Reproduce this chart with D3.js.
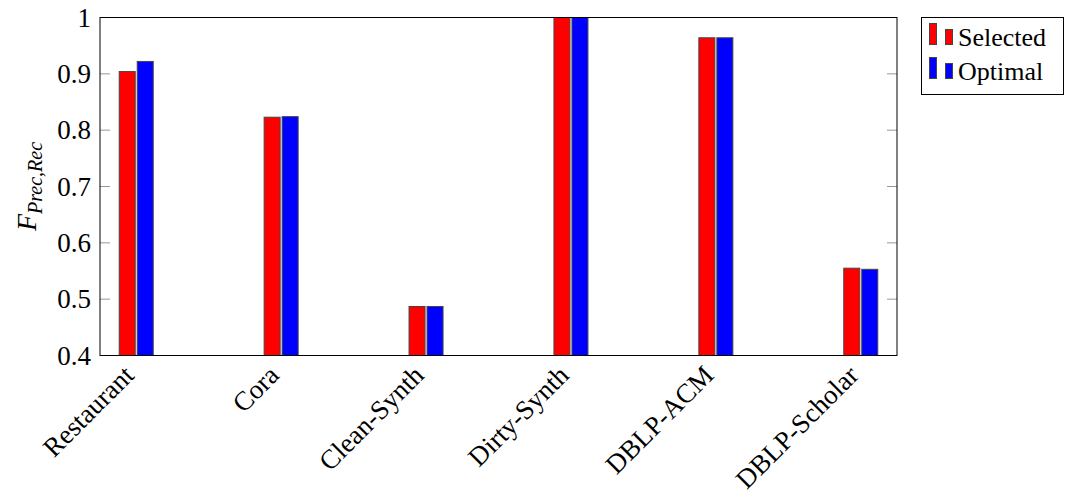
<!DOCTYPE html>
<html><head><meta charset="utf-8">
<script src="https://cdn.jsdelivr.net/npm/d3@7"></script>
<style>body{margin:0;background:#fff}svg{display:block}
text{font-family:"Liberation Serif","Times New Roman",serif}</style>
</head><body>
<svg id="c" width="1065" height="498"></svg>
<script>
const categories = ["Restaurant","Cora","Clean-Synth","Dirty-Synth","DBLP-ACM","DBLP-Scholar"];
const selected = [0.904, 0.823, 0.487, 1.0, 0.964, 0.555];
const optimal  = [0.922, 0.824, 0.487, 1.0, 0.964, 0.553];
const yTicks = [0.4, 0.5, 0.6, 0.7, 0.8, 0.9, 1];
const seriesNames = ["Selected","Optimal"];
const seriesColors = ["#ff0000","#0000ff"];

const svg = d3.select("#c");
const L = 100, R = 897, T = 17.5, B = 355.5;
const x = d3.scalePoint().domain(categories).range([L, R]).padding(0.25);
const y = d3.scaleLinear().domain([0.4, 1]).range([B, T]);
const font = '"Liberation Serif","Times New Roman",serif';

// ticks inside on left and right
const tg = svg.append("g");
yTicks.forEach(t => {
  tg.append("line").attr("x1", L).attr("x2", L + 10).attr("y1", y(t)).attr("y2", y(t))
    .attr("stroke", "#999").attr("stroke-width", 1);
  tg.append("line").attr("x1", R - 10).attr("x2", R).attr("y1", y(t)).attr("y2", y(t))
    .attr("stroke", "#999").attr("stroke-width", 1);
});

// bars
const series = [selected, optimal];
series.forEach((vals, si) => {
  svg.append("g").selectAll("rect").data(categories).join("rect")
    .attr("x", d => si === 0 ? x(d) - 17 : x(d) + 1)
    .attr("width", 16)
    .attr("y", (d, i) => y(vals[i]))
    .attr("height", (d, i) => B - y(vals[i]))
    .attr("fill", seriesColors[si])
    .attr("stroke", "#444").attr("stroke-width", 1);
});

// frame
svg.append("rect").attr("x", L).attr("y", T).attr("width", R - L).attr("height", B - T)
  .attr("fill", "none").attr("stroke", "#000").attr("stroke-width", 1);

// y tick labels
const yAxis = d3.axisLeft(y).tickValues(yTicks).tickSize(0).tickPadding(9)
  .tickFormat(d => d === 1 ? "1" : d3.format(".1f")(d));
const ya = svg.append("g").attr("transform", `translate(${L},0)`).call(yAxis)
  .attr("font-family", null).attr("font-size", null);
ya.select(".domain").remove();
ya.selectAll("text").style("font-family", font).style("font-size", "27px").attr("fill", "#000");

// x labels
svg.append("g").selectAll("text").data(categories).join("text")
  .attr("transform", d => `translate(${x(d) - 14},${B + 8}) rotate(-45)`)
  .attr("text-anchor", "end").attr("dy", "0.7em")
  .style("font-family", font).style("font-size", "27px").attr("fill", "#000")
  .text(d => d);

// y label
const yl = svg.append("text").attr("transform", `translate(36,${(T + B) / 2}) rotate(-90)`)
  .attr("text-anchor", "middle").style("font-family", font).attr("font-style", "italic").attr("fill", "#000");
yl.append("tspan").style("font-size", "28px").text("F");
yl.append("tspan").style("font-size", "20px").attr("dy", 6).text("Prec,Rec");

// legend
const lg = svg.append("g");
lg.append("rect").attr("x", 921.5).attr("y", 17.5).attr("width", 142).attr("height", 77)
  .attr("fill", "#fff").attr("stroke", "#000").attr("stroke-width", 1);
seriesNames.forEach((n, i) => {
  const oy = 23 + i * 34;
  lg.append("rect").attr("x", 929.5).attr("y", oy + 0.5).attr("width", 7).attr("height", 21)
    .attr("fill", seriesColors[i]).attr("stroke", "#444");
  lg.append("rect").attr("x", 945.5).attr("y", oy + 6.5).attr("width", 7).attr("height", 15)
    .attr("fill", seriesColors[i]).attr("stroke", "#444");
  lg.append("text").attr("x", 958).attr("y", oy + 23).style("font-family", font)
    .style("font-size", "26px").attr("fill", "#000").text(n);
});
</script>
</body></html>
